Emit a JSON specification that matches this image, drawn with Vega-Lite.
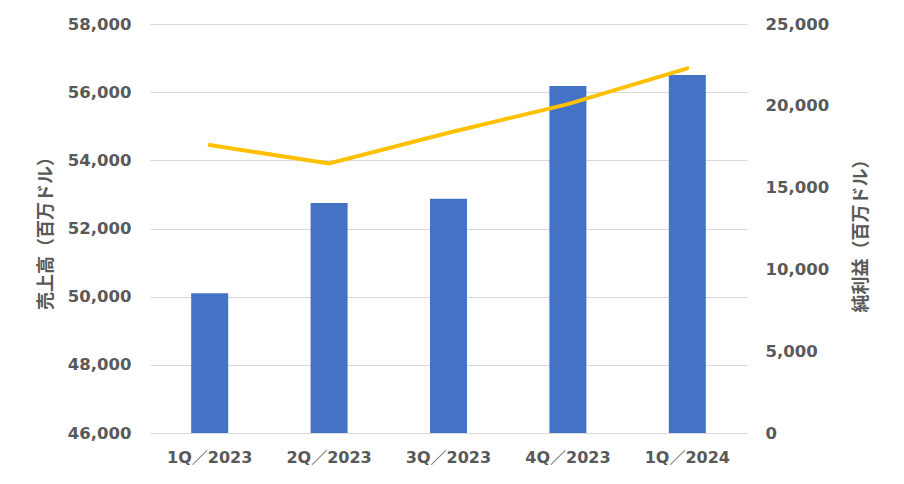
{
  "$schema": "https://vega.github.io/schema/vega-lite/v6.json",
  "width": 597,
  "height": 409,
  "autosize": {"type": "none"},
  "padding": {"left": 150, "top": 24, "right": 157, "bottom": 51},
  "background": "white",
  "data": {
    "values": [
      {"quarter": "1Q／2023", "revenue": 50100, "netIncome": 17600},
      {"quarter": "2Q／2023", "revenue": 52750, "netIncome": 16480},
      {"quarter": "3Q／2023", "revenue": 52870, "netIncome": 18350},
      {"quarter": "4Q／2023", "revenue": 56180, "netIncome": 20100},
      {"quarter": "1Q／2024", "revenue": 56505, "netIncome": 22290}
    ]
  },
  "encoding": {
    "x": {
      "field": "quarter",
      "type": "nominal",
      "sort": null,
      "scale": {"paddingInner": 0.69, "paddingOuter": 0.345},
      "axis": {
        "title": null,
        "labelAngle": 0,
        "labelFont": "DejaVu Sans, Noto Sans CJK JP",
        "labelFontSize": 16,
        "labelFontWeight": "bold",
        "labelColor": "#595959",
        "labelPadding": 16,
        "ticks": false,
        "domain": false,
        "grid": false
      }
    }
  },
  "layer": [
    {
      "mark": {"type": "bar", "color": "#4472C4", "clip": true},
      "encoding": {
        "y": {
          "field": "revenue",
          "type": "quantitative",
          "scale": {"domain": [46000, 58000], "nice": false, "zero": false},
          "axis": {
            "title": "売上高（百万ドル）",
            "titleFont": "Noto Sans CJK JP",
            "titleFontSize": 18,
            "titleFontWeight": "bold",
            "titleColor": "#595959",
            "titlePadding": 12,
            "values": [46000, 48000, 50000, 52000, 54000, 56000, 58000],
            "format": ",d",
            "labelFont": "DejaVu Sans",
            "labelFontSize": 16.5,
            "labelFontWeight": "bold",
            "labelColor": "#595959",
            "labelPadding": 19,
            "ticks": false,
            "domain": false,
            "grid": true,
            "gridColor": "#d9d9d9",
            "gridWidth": 1.2
          }
        }
      }
    },
    {
      "mark": {"type": "line", "color": "#FFC000", "strokeWidth": 4, "strokeCap": "round"},
      "encoding": {
        "y": {
          "field": "netIncome",
          "type": "quantitative",
          "scale": {"domain": [0, 25000], "nice": false},
          "axis": {
            "orient": "right",
            "title": "純利益（百万ドル）",
            "titleAngle": 270,
            "titleX": 114,
            "titleY": 207,
            "titleAlign": "center",
            "titleBaseline": "middle",
            "titleFont": "Noto Sans CJK JP",
            "titleFontSize": 18,
            "titleFontWeight": "bold",
            "titleColor": "#595959",
            "values": [0, 5000, 10000, 15000, 20000, 25000],
            "format": ",d",
            "labelFont": "DejaVu Sans",
            "labelFontSize": 16.5,
            "labelFontWeight": "bold",
            "labelColor": "#595959",
            "labelPadding": 18,
            "ticks": false,
            "domain": false,
            "grid": false
          }
        }
      }
    }
  ],
  "resolve": {"scale": {"y": "independent"}},
  "config": {"view": {"stroke": null}}
}
